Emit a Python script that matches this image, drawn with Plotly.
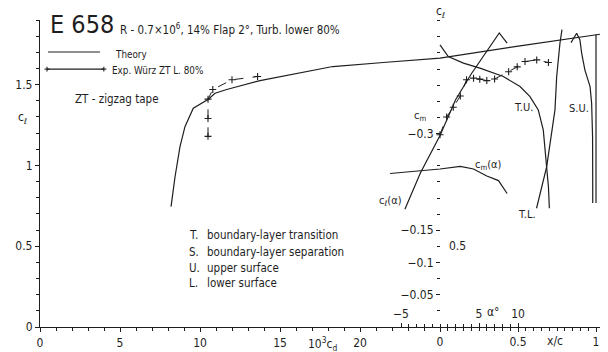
import plotly.graph_objects as go

# ---- drag polar: lift coefficient vs 10^3 c_d ----
theory_cd = [8.19, 8.44, 8.75, 9.06, 9.58, 10.52, 10.94, 11.67, 13.75, 16.25, 18.3, 21.46, 25.0, 30.0, 35.0]
theory_cl = [0.745, 0.93, 1.116, 1.24, 1.354, 1.41, 1.447, 1.47, 1.525, 1.575, 1.612, 1.637, 1.664, 1.74, 1.812]

exp_cd = [10.5, 10.5, 10.5, 10.8, 12.0, 13.6]
exp_cl = [1.18, 1.29, 1.41, 1.47, 1.53, 1.55]

# ---- lift and moment vs angle of attack ----
alpha_th = [-4.5, -2.5, 0.0, 2.0, 4.0, 6.0, 7.6, 8.6]
cl_alpha_th = [0.729, 0.955, 1.185, 1.407, 1.566, 1.705, 1.82, 1.757]

alpha_exp = [0.0, 0.85, 1.7, 2.6, 3.4, 4.3, 5.1, 6.0, 7.0, 8.8, 9.9, 10.9, 12.4, 13.9]
cl_alpha_exp = [1.19, 1.30, 1.36, 1.43, 1.53, 1.54, 1.534, 1.525, 1.535, 1.58, 1.61, 1.643, 1.653, 1.637]

alpha_cm = [-6.4, -2.5, 0.0, 2.6, 4.3, 6.0, 7.5, 8.6]
cm_alpha = [-0.238, -0.242, -0.245, -0.249, -0.245, -0.234, -0.227, -0.207]

# ---- transition / separation locations vs c_l ----
tu_xc = [0.0, 0.053, 0.15, 0.256, 0.406, 0.513, 0.577, 0.63, 0.662, 0.684, 0.695, 0.701]
tu_cl = [1.746, 1.674, 1.633, 1.602, 1.55, 1.488, 1.426, 1.343, 1.22, 0.993, 0.869, 0.735]

tl_xc = [0.619, 0.684, 0.737, 0.748, 0.769, 0.782]
tl_cl = [0.735, 0.993, 1.344, 1.55, 1.757, 1.84]

su_xc = [0.84, 0.876, 0.897, 0.908, 0.929, 0.962, 0.972, 0.978, 0.979, 0.979]
su_cl = [1.76, 1.818, 1.777, 1.695, 1.59, 1.488, 1.385, 1.178, 0.9, 0.768]

te_xc = [1.0, 1.0]
te_cl = [1.81, 0.768]

# ---- axis ticks ----
cd_ticks = [0, 5, 10, 15, 20]
xc_ticks = [0, 0.5, 1]
alpha_ticks = [-5, 5, 10]
cl_ticks = [0, 0.5, 1, 1.5]
cm_ticks = [-0.3, -0.15, -0.1, -0.05]

INK = "#1e1e1e"
FONT = "Liberation Sans Narrow, DejaVu Sans Condensed, Liberation Sans, sans-serif"

CD_RANGE = [0, 35]
XC_RANGE = [-400 / 156, 160 / 156]
AL_RANGE = [-400 / 7.8, 160 / 7.8]
CL_RANGE = [0, 1.9]
CM_RANGE = [0, -307 / 645]
RIGHT_POS = 400 / 560

fig = go.Figure()
line = dict(color=INK, width=1.2)
cross = dict(symbol="cross-thin", size=5, line=dict(color=INK, width=1.1))

fig.add_trace(go.Scatter(x=theory_cd, y=theory_cl, mode="lines", line=line,
                         xaxis="x", yaxis="y", showlegend=False))
fig.add_trace(go.Scatter(x=exp_cd, y=exp_cl, mode="lines+markers",
                         line=dict(color=INK, width=1, dash="dash"), marker=cross,
                         xaxis="x", yaxis="y", showlegend=False))
fig.add_trace(go.Scatter(x=alpha_th, y=cl_alpha_th, mode="lines", line=line,
                         xaxis="x3", yaxis="y", showlegend=False))
fig.add_trace(go.Scatter(x=alpha_exp, y=cl_alpha_exp, mode="lines+markers",
                         line=dict(color=INK, width=1, dash="dash"), marker=cross,
                         xaxis="x3", yaxis="y", showlegend=False))
fig.add_trace(go.Scatter(x=alpha_cm, y=cm_alpha, mode="lines", line=line,
                         xaxis="x3", yaxis="y2", showlegend=False))
for xs, ys in [(tu_xc, tu_cl), (tl_xc, tl_cl), (su_xc, su_cl), (te_xc, te_cl)]:
    fig.add_trace(go.Scatter(x=xs, y=ys, mode="lines", line=line,
                             xaxis="x2", yaxis="y", showlegend=False))

tickfont = dict(family=FONT, size=12, color=INK)
common = dict(showgrid=False, zeroline=False, tickcolor=INK, linecolor=INK,
              tickfont=tickfont, fixedrange=True, automargin=False,
              ticklabeloverflow="allow")

fig.update_layout(
    width=608, height=352,
    margin=dict(l=40, r=8, t=20, b=25),
    paper_bgcolor="white", plot_bgcolor="white",
    font=dict(family=FONT, color=INK),
    showlegend=False,
    xaxis=dict(domain=[0, 1], range=CD_RANGE, anchor="y", side="bottom",
               showline=True, linewidth=1.2, tickmode="array",
               tickvals=cd_ticks, ticktext=[str(v) for v in cd_ticks],
               ticks="outside", ticklen=4, tickwidth=1,
               minor=dict(tickvals=[v for v in range(1, 26) if v % 5], ticks="outside",
                          ticklen=3, tickcolor=INK),
               **common),
    xaxis2=dict(range=XC_RANGE, overlaying="x", anchor="y", side="bottom",
                showline=False, tickmode="array", tickvals=xc_ticks,
                ticktext=["0", "0.5", "1"], ticks="outside", ticklen=4, tickwidth=1,
                minor=dict(tickvals=[round(0.05 * k, 2) for k in range(1, 20) if k != 10],
                           ticks="outside", ticklen=3, tickcolor=INK),
                **common),
    # angle-of-attack scale sits on the same baseline, labelled above it
    xaxis3=dict(range=AL_RANGE, overlaying="x", anchor="free", position=0, side="top",
                showline=False, tickmode="array", tickvals=alpha_ticks,
                ticktext=["\u22125", "5", "10"], ticks="outside", ticklen=4, tickwidth=1,
                minor=dict(tickvals=[v for v in range(-4, 10) if v != 5],
                           ticks="outside", ticklen=3, tickcolor=INK),
                **common),
    yaxis=dict(domain=[0, 1], range=CL_RANGE, anchor="x", side="left",
               showline=True, linewidth=1.2, tickmode="array", tickvals=cl_ticks,
               ticktext=["0", "0.5", "1", "1.5"], ticks="outside", ticklen=4, tickwidth=1,
               minor=dict(tickvals=[round(0.1 * k, 1) for k in range(1, 20) if k % 5],
                          ticks="outside", ticklen=3, tickcolor=INK),
               **common),
    yaxis4=dict(range=CL_RANGE, overlaying="y", anchor="x", side="left",
                showline=False, showticklabels=False, tickmode="array",
                tickvals=[round(0.1 * k, 1) for k in range(1, 20)],
                ticks="inside", ticklen=3, tickwidth=1, **common),
    yaxis2=dict(range=CM_RANGE, overlaying="y", anchor="free", position=RIGHT_POS,
                side="left", showline=False, tickmode="array", tickvals=cm_ticks,
                ticktext=["\u22120.3", "\u22120.15", "\u22120.1", "\u22120.05"],
                ticks="outside", ticklen=4, tickwidth=1,
                minor=dict(tickvals=[round(-0.025 * k, 3) for k in range(1, 20)],
                           ticks="outside", ticklen=3, tickcolor=INK),
                **common),
    yaxis3=dict(range=CL_RANGE, overlaying="y", anchor="free", position=RIGHT_POS,
                side="right", showline=True, linewidth=1.2, tickmode="array",
                tickvals=[0.5], ticktext=[""], ticks="outside", ticklen=4, tickwidth=1,
                minor=dict(tickvals=[round(0.1 * k, 1) for k in range(1, 20) if k != 5],
                           ticks="outside", ticklen=3, tickcolor=INK),
                **common),
)


def label(text, x, y, size=11, xanchor="center", yanchor="middle", xref="paper", yref="paper"):
    fig.add_annotation(text=text, x=x, y=y, xref=xref, yref=yref,
                       xanchor=xanchor, yanchor=yanchor, showarrow=False,
                       font=dict(family=FONT, size=size, color=INK))


# title block
label("E 658", 0.0143, 0.985, size=25, xanchor="left")
label("R - 0.7\u00d710<sup>6</sup>, 14% Flap 2\u00b0, Turb. lower 80%", 0.139, 0.968,
      size=11.5, xanchor="left")

# legend
fig.add_shape(type="line", xref="paper", yref="paper", x0=0.0143, x1=0.107,
              y0=0.896, y1=0.896, line=dict(color=INK, width=1.1))
label("Theory", 0.1304, 0.889, size=9.8, xanchor="left")
fig.add_shape(type="line", xref="paper", yref="paper", x0=0.0125, x1=0.114,
              y0=0.840, y1=0.840, line=dict(color=INK, width=1.1))
for xe in (0.0125, 0.114):
    fig.add_shape(type="line", xref="paper", yref="paper", x0=xe - 0.0045, x1=xe + 0.0045,
                  y0=0.840, y1=0.840, line=dict(color=INK, width=1.1))
    fig.add_shape(type="line", xref="paper", yref="paper", x0=xe, x1=xe,
                  y0=0.840 - 0.008, y1=0.840 + 0.008, line=dict(color=INK, width=1.1))
label("Exp. W\u00fcrz ZT L. 80%", 0.125, 0.834, size=9.8, xanchor="left")
label("ZT - zigzag tape", 0.0589, 0.743, size=11.5, xanchor="left")

# axis titles
label("c<sub>\u2113</sub>", -0.032, 0.681, size=12)
label("c<sub>\u2113</sub>", 0.7143, 1.026, size=12)
label("c<sub>m</sub>", 0.6786, 0.687, size=11)
label("10<sup>3</sup>c<sub>d</sub>", 0.5036, -0.055, size=12)
label("x/c", 0.9196, -0.046, size=12)
label("\u03b1\u00b0", 0.809, 0.048, size=12)

# c_l value on the right-hand scale, beside its tick
label("0.5", 0.727, 0.5, size=12, xanchor="left", yref="y")

# curve labels
label("c<sub>m</sub>(\u03b1)", 0.80, 0.528, size=11)
label("c<sub>\u2113</sub>(\u03b1)", 0.625, 0.410, size=11)
label("T.U.", 0.8625, 0.7166, size=11)
label("S.U.", 0.9625, 0.713, size=11)
label("T.L.", 0.8696, 0.368, size=11)

# key to abbreviations
keys = [("T.", "boundary-layer transition"), ("S.", "boundary-layer separation"),
        ("U.", "upper surface"), ("L.", "lower surface")]
for (k, desc), yk in zip(keys, [0.300, 0.244, 0.192, 0.143]):
    label(k, 0.2625, yk, size=11.5, xanchor="left")
    label(desc, 0.2946, yk, size=11.5, xanchor="left")

fig.write_html("out.html")
